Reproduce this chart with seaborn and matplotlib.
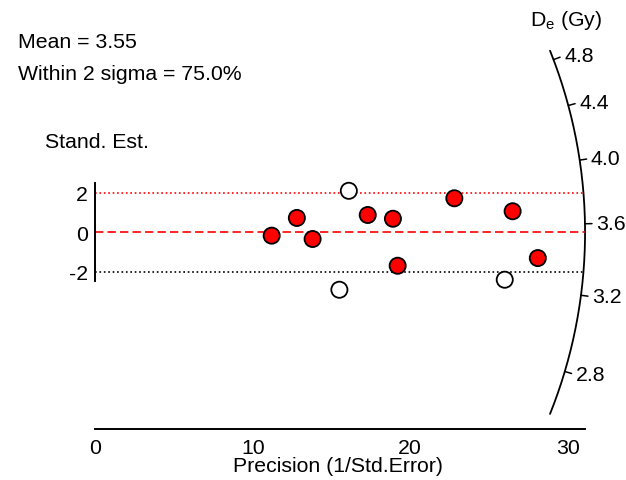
import numpy as np
import pandas as pd
import matplotlib
matplotlib.use("Agg")
import matplotlib.pyplot as plt
import seaborn as sns

# precision (1/std.error) and standardised estimate of each aliquot
precision = [11.2, 12.8, 13.8, 16.1, 15.5, 17.3, 18.9, 19.2, 22.8, 26.5, 26.0, 28.1]
std_est = [-0.17, 0.73, -0.34, 2.11, -2.92, 0.88, 0.69, -1.70, 1.73, 1.07, -2.41, -1.31]

central_de = 3.55
de_ticks = [2.8, 3.2, 3.6, 4.0, 4.4, 4.8]
x_ticks = [0, 10, 20, 30]
y_ticks = [-2, 0, 2]

df = pd.DataFrame({"precision": precision, "z": std_est})
df["inside"] = np.where(df["z"].abs() <= 2, "in", "out")
share_in = (df["inside"] == "in").mean() * 100

sns.set_style("white")
plt.rcParams["font.family"] = ["Liberation Sans", "DejaVu Sans"]
plt.rcParams["axes.unicode_minus"] = False
plt.rcParams["text.color"] = "black"
fs = 15.3

fig = plt.figure(figsize=(6.26, 4.81), dpi=100)
ax = fig.add_axes([0.1522, 0.1060, 0.7824, 0.8179])
ax.set_xlim(0, 31.1)
ax.set_ylim(-10, 10)

# arc of the radial plot (a circle on the page)
rx, ry = 31.1, 24.86
phi = np.radians(np.linspace(-21.8, 21.8, 200))
ax.plot(rx * np.cos(phi), ry * np.sin(phi), color="black", lw=1.3, clip_on=False)

for d in de_ticks:
    s = np.log(d / central_de)
    a = np.arctan(s * rx / ry)
    x0, y0 = rx * np.cos(a), ry * np.sin(a)
    f = 7 / 489
    ax.plot([x0, x0 * (1 + f)], [y0, y0 * (1 + f)], color="black", lw=1.1, clip_on=False)
    ax.text(x0 * (1 + 1.6 * f), y0 * (1 + 1.6 * f), f"{d:.1f}", ha="left", va="center",
            fontsize=fs, clip_on=False)

# reference lines, cut at the arc
for yv, col, ls in [(2, "red", ":"), (0, "red", (0, (5, 2.5))), (-2, "black", ":")]:
    xe = rx * np.sqrt(1 - (yv / ry) ** 2)
    ax.plot([0, xe], [yv, yv], color=col, lw=1.2, linestyle=ls, clip_on=False)

sns.scatterplot(data=df, x="precision", y="z", hue="inside",
                palette={"in": "red", "out": "white"}, edgecolor="black",
                linewidth=1.3, s=135, legend=False, ax=ax, clip_on=False, zorder=5)

# axes
sns.despine(ax=ax, top=True, right=True)
ax.spines["left"].set_bounds(-2.5, 2.5)
ax.spines["bottom"].set_bounds(0, 31.1)
for sp in ["left", "bottom"]:
    ax.spines[sp].set_linewidth(1.4)
    ax.spines[sp].set_color("black")
ax.set_xticks(x_ticks)
ax.set_yticks(y_ticks)
ax.set_yticklabels([str(v) for v in y_ticks])
ax.tick_params(axis="both", direction="out", length=4.5, width=1.2, colors="black",
               labelsize=fs, pad=1)
ax.tick_params(axis="x", pad=2)
ax.set_xlabel("")
ax.set_ylabel("")

fig.text(338 / 626, 1 - 466 / 481, "Precision (1/Std.Error)", ha="center", va="center", fontsize=fs)
fig.text(45 / 626, 1 - 143 / 481, "Stand. Est.", ha="left", va="center", fontsize=fs)
fig.text(18 / 626, 1 - 43 / 481, f"Mean = {central_de:.2f}", ha="left", va="center", fontsize=fs)
fig.text(18 / 626, 1 - 74 / 481, f"Within 2 sigma = {share_in:.1f}%", ha="left", va="center",
         fontsize=fs)
fig.text(566 / 626, 1 - 21 / 481, r"D$_\mathregular{e}$ (Gy)", ha="center", va="center", fontsize=fs)

fig.savefig("out.png", dpi=100)
